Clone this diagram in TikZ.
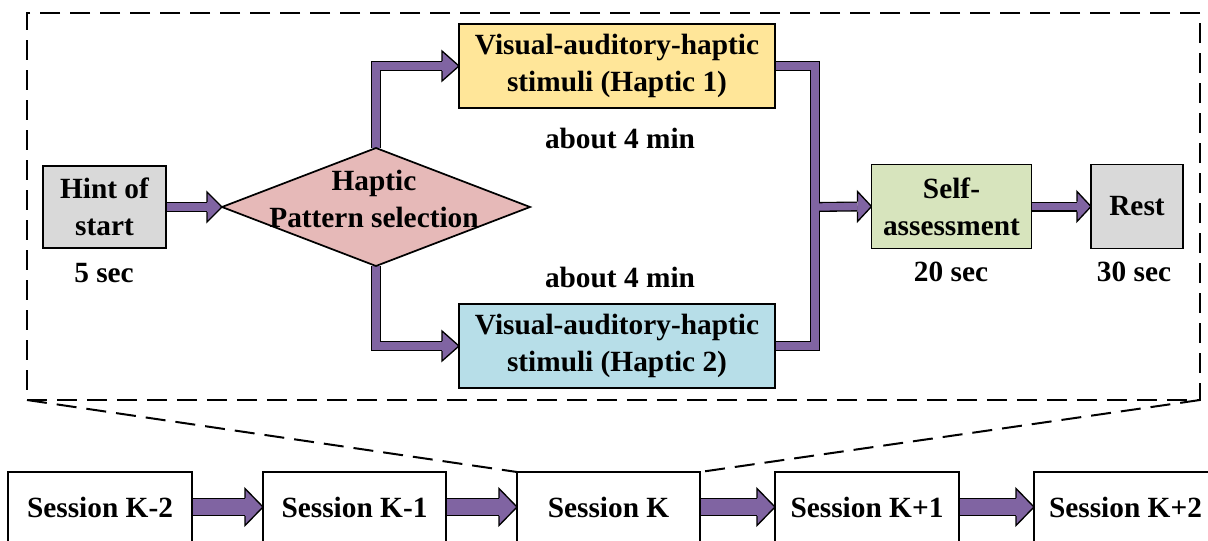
\documentclass[tikz,border=0pt]{standalone}
\usepackage{fontspec}
\setmainfont{Liberation Serif}
\usetikzlibrary{shapes.geometric,calc}

\definecolor{flowpurple}{HTML}{8064A2}
\definecolor{boxgray}{HTML}{D9D9D9}
\definecolor{decpink}{HTML}{E6B9B8}
\definecolor{hapyellow}{HTML}{FFE699}
\definecolor{hapblue}{HTML}{B7DEE8}
\definecolor{assessgreen}{HTML}{D7E4BD}

\pgfdeclarelayer{bg}
\pgfsetlayers{bg,main}

% block-arrow head pointing right: tip, length, half height, half shaft width
\newcommand\fathead[4]{%
  \fill[flowpurple] (#1) -- ++(-#2,-#3) -- ++(0,{2*#3}) -- cycle;
  \draw[black, line width=1pt, line join=miter]
    ($(#1)+(-#2,-#4)$) -- ++(0,{#4-#3}) -- (#1) -- ++(-#2,#3) -- ++(0,{#4-#3});
}

\tikzset{
  txt/.style={font=\bfseries\fontsize{22}{28}\selectfont},
  box/.style={txt, draw=black, line width=1.3pt, align=center, inner sep=0pt, outer sep=0pt},
  lbl/.style={txt, inner sep=0pt},
  shaftout/.style={draw=black, line width=7.5pt, line join=miter},
  shaftin/.style={draw=flowpurple, line width=5.5pt, line join=miter},
  bigout/.style={draw=black, line width=13.5pt},
  bigin/.style={draw=flowpurple, line width=11.5pt},
  frame/.style={draw=black, line width=1.5pt, dash pattern=on 15pt off 7.5pt},
}

\begin{document}
\begin{tikzpicture}[x=0.75pt,y=-0.75pt]
\useasboundingbox (0,0) rectangle (1208,540);
\clip (0,0) rectangle (1208,540);

% ---- session detail ----
\node[frame, minimum width=879.75pt, minimum height=290.25pt, inner sep=0pt, outer sep=0pt] (zoom) at (613.5,206.5) {};

\node[box, fill=boxgray, minimum width=92.25pt, minimum height=61.5pt] (hint) at (104.5,207) {Hint of\\start};
\node[diamond, draw=black, line width=1.3pt, fill=decpink, minimum width=231pt, minimum height=88.5pt, inner sep=0pt, outer sep=0pt] (sel) at (376,207) {};
\node[lbl, align=center] (seltext) at (374,199) {Haptic\\Pattern selection};
\node[box, fill=hapyellow, minimum width=237pt, minimum height=63pt] (h1) at (617,66) {Visual-auditory-haptic\\stimuli (Haptic 1)};
\node[box, fill=hapblue, minimum width=237pt, minimum height=63pt] (h2) at (617,346) {Visual-auditory-haptic\\stimuli (Haptic 2)};
\node[box, fill=assessgreen, minimum width=120pt, minimum height=63pt] (self) at (951.5,206.5) {Self-\\assessment};
\node[box, fill=boxgray, minimum width=69pt, minimum height=63pt] (rest) at (1137,206.5) {Rest};

\node[lbl] (d1) at (620,138) {about 4 min};
\node[lbl] (d2) at (620,277) {about 4 min};
\node[lbl] (d0) at (104,273) {5 sec};
\node[lbl] (d3) at (951,272) {20 sec};
\node[lbl] (d4) at (1134,272) {30 sec};

\coordinate (mj) at (815,207);

\begin{pgfonlayer}{bg}
  % black outlines of the flow connectors
  \draw[shaftout] (hint.east) -- ($(sel.west)+(-15,0)$);
  \draw[shaftout] (sel.north) |- ($(h1.west)+(-17,0)$);
  \draw[shaftout] (sel.south) |- ($(h2.west)+(-17,0)$);
  \draw[shaftout] (h1.east) -| (mj) |- (h2.east);
  \draw[shaftout] (mj) -- ($(self.west)+(-14,0)$);
  \draw[shaftout] (self.east) -- ($(rest.west)+(-14,0)$);
  % purple cores
  \draw[shaftin] (hint.east) -- ($(sel.west)+(-15,0)$);
  \draw[shaftin] (sel.north) |- ($(h1.west)+(-17,0)$);
  \draw[shaftin] (sel.south) |- ($(h2.west)+(-17,0)$);
  \draw[shaftin] (h1.east) -| (mj) |- (h2.east);
  \draw[shaftin] (mj) -- ($(self.west)+(-14,0)$);
  \draw[shaftin] (self.east) -- ($(rest.west)+(-14,0)$);
  % heads
  \fathead{sel.west}{15}{15}{5}
  \fathead{h1.west}{17}{15}{5}
  \fathead{h2.west}{17}{15}{5}
  \fathead{self.west}{14}{15}{5}
  \fathead{rest.west}{14}{15}{5}
\end{pgfonlayer}

% ---- session sequence ----
\node[box, fill=white, minimum width=138pt, minimum height=52.5pt] (s1) at (100,507) {Session K-2};
\node[box, fill=white, minimum width=137.25pt, minimum height=52.5pt] (s2) at (354.5,507) {Session K-1};
\node[box, fill=white, minimum width=137.25pt, minimum height=52.5pt] (s3) at (608.5,507) {Session K};
\node[box, fill=white, minimum width=138pt, minimum height=52.5pt] (s4) at (867,507) {Session K+1};
\node[box, fill=white, minimum width=137.25pt, minimum height=52.5pt] (s5) at (1125.5,507) {Session K+2};

\begin{pgfonlayer}{bg}
  \foreach \a/\b in {s1/s2, s2/s3, s3/s4, s4/s5} {
    \draw[bigout] (\a.east) -- ($(\b.west)+(-18,0)$);
    \draw[bigin] (\a.east) -- ($(\b.west)+(-18,0)$);
    \fathead{\b.west}{18}{18.5}{9}
  }
\end{pgfonlayer}

% ---- zoom lines from the detail frame to session K ----
\draw[frame] (zoom.south west) -- (s3.north west);
\draw[frame] (zoom.south east) -- (s3.north east);
\end{tikzpicture}
\end{document}
